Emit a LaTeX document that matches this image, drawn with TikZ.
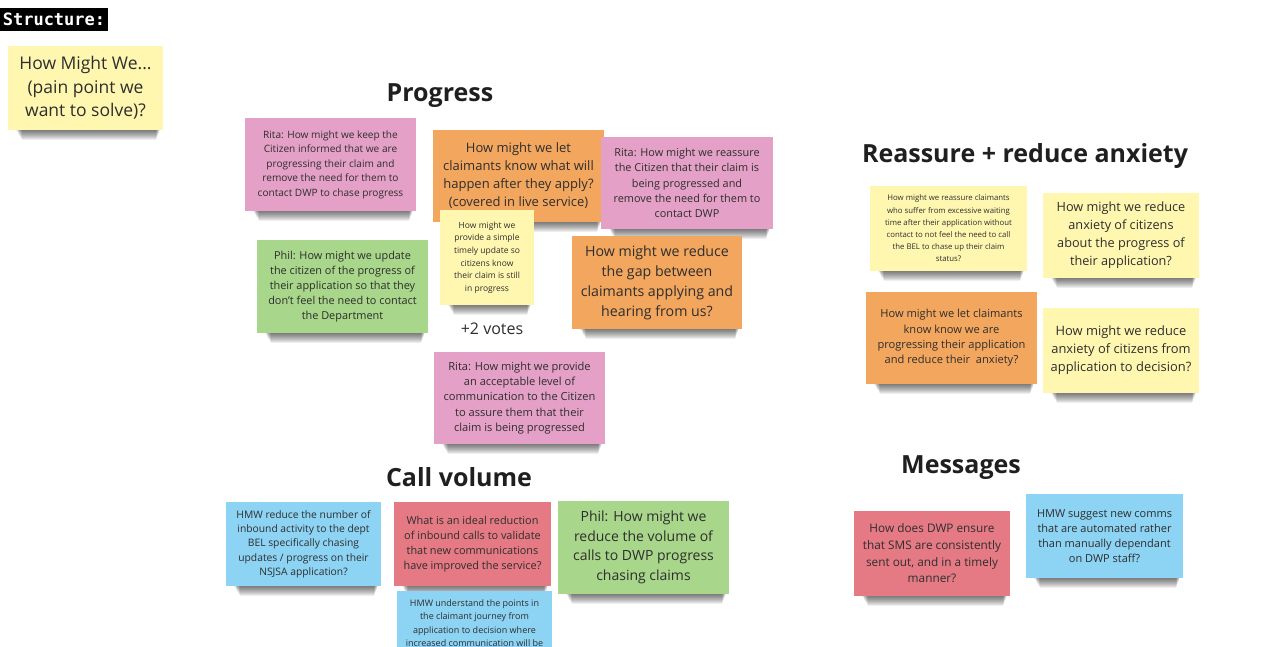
\documentclass[tikz,border=0pt]{standalone}
\usepackage{fontspec}
\setmainfont{Open Sans}
\newfontfamily\monofont{DejaVu Sans Mono}
\usepackage{xcolor}
\usetikzlibrary{backgrounds}

\definecolor{noteyellow}{HTML}{FFF7B0}
\definecolor{notepink}{HTML}{E4A0C6}
\definecolor{noteorange}{HTML}{F3A65E}
\definecolor{notegreen}{HTML}{A8D68A}
\definecolor{noteblue}{HTML}{8DD3F3}
\definecolor{notered}{HTML}{E57A85}
\definecolor{inktext}{HTML}{2E2E2E}

\tikzset{
  sticky/.style={inner sep=0pt,align=center,text=inktext},
  yellow note/.style={sticky,fill=noteyellow},
  pink note/.style={sticky,fill=notepink},
  orange note/.style={sticky,fill=noteorange},
  green note/.style={sticky,fill=notegreen},
  blue note/.style={sticky,fill=noteblue},
  red note/.style={sticky,fill=notered},
  heading/.style={anchor=base,text=black!88,font=\fontsize{25}{29}\selectfont\bfseries}
}

\begin{document}
\begin{tikzpicture}[x=1pt,y=-1pt]
      \useasboundingbox (0,0) rectangle (1280,646);
      %% legend
      \node[fill=black,text=white,inner sep=0pt,minimum width=108pt,minimum height=23pt,
            font=\monofont\fontsize{17}{20}\selectfont\bfseries] (struct) at (54,19.5) {Structure:};
      \node[yellow note,minimum width=155pt,minimum height=84pt,font=\fontsize{17.5}{23.5}\selectfont]
           (howmight) at (85.5,88) {How Might We...\\(pain point we\\want to solve)?};
      %%
      %% Progress
      \node[heading] (progress) at (440,101) {Progress};
      \node[pink note,minimum width=171pt,minimum height=93pt,font=\fontsize{10.1}{14.5}\selectfont]
           (ritaA) at (330.5,164.5) {Rita: How might we keep the\\Citizen informed that we are\\progressing their claim and\\remove the need for them to\\contact DWP to chase progress};
      \node[orange note,minimum width=171pt,minimum height=92pt,font=\fontsize{13}{18}\selectfont]
           (letknow) at (518.5,176) {How might we let\\claimants know what will\\happen after they apply?\\(covered in live service)};
      \node[pink note,minimum width=172pt,minimum height=92pt,font=\fontsize{10.9}{15.3}\selectfont]
           (ritaB) at (687,183) {Rita: How might we reassure\\the Citizen that their claim is\\being progressed and\\remove the need for them to\\contact DWP};
      \node[yellow note,minimum width=94pt,minimum height=95pt,font=\fontsize{8.5}{12.6}\selectfont]
           (timely) at (487,257.5) {How might we\\provide a simple\\timely update so\\citizens know\\their claim is still\\in progress};
      \node[green note,minimum width=171pt,minimum height=93pt,font=\fontsize{10.9}{15}\selectfont]
           (philA) at (342.5,286.5) {Phil: How might we update\\the citizen of the progress of\\their application so that they\\don't feel the need to contact\\the Department};
      \node[anchor=base,text=inktext,font=\fontsize{16}{19}\selectfont] (votes) at (492,334) {+2 votes};
      \node[orange note,minimum width=170pt,minimum height=93pt,font=\fontsize{14.2}{20}\selectfont]
           (gap) at (657,282.5) {How might we reduce\\the gap between\\claimants applying and\\hearing from us?};
      \node[pink note,minimum width=171pt,minimum height=92pt,font=\fontsize{11.1}{15.2}\selectfont]
           (ritaC) at (519.5,398) {Rita: How might we provide\\an acceptable level of\\communication to the Citizen\\to assure them that their\\claim is being progressed};
      %%
      %% Call volume
      \node[heading] (callvol) at (459,486) {Call volume};
      \node[blue note,minimum width=155pt,minimum height=84pt,font=\fontsize{10.3}{14.3}\selectfont]
           (inbound) at (303.5,544) {HMW reduce the number of\\inbound activity to the dept\\BEL specifically chasing\\updates / progress on their\\NSJSA application?};
      \node[red note,minimum width=157pt,minimum height=84pt,font=\fontsize{10.9}{15}\selectfont]
           (ideal) at (472.5,544) {What is an ideal reduction\\of inbound calls to validate\\that new communications\\have improved the service?};
      \node[green note,minimum width=171pt,minimum height=93pt,font=\fontsize{14}{19.6}\selectfont]
           (philB) at (643.5,547.5) {Phil: How might we\\reduce the volume of\\calls to DWP progress\\chasing claims};
      \node[blue note,anchor=north,minimum width=155pt,inner ysep=8pt,font=\fontsize{9}{13.5}\selectfont]
           (journey) at (474.5,591) {HMW understand the points in\\the claimant journey from\\application to decision where\\increased communication will be};
      %%
      %% Reassure + reduce anxiety
      \node[heading] (reassure) at (1025,162) {Reassure + reduce anxiety};
      \node[yellow note,minimum width=157pt,minimum height=85pt,font=\fontsize{7.8}{12.2}\selectfont]
           (waiting) at (948.5,228.5) {How might we reassure claimants\\who suffer from excessive waiting\\time after their application without\\contact to not feel the need to call\\the BEL to chase up their claim\\status?};
      \node[yellow note,minimum width=156pt,minimum height=85pt,font=\fontsize{12.7}{18}\selectfont]
           (anxietyA) at (1121,235.5) {How might we reduce\\anxiety of citizens\\about the progress of\\their application?};
      \node[orange note,minimum width=171pt,minimum height=92pt,font=\fontsize{11.1}{15.3}\selectfont]
           (letclaim) at (951.5,338) {How might we let claimants\\know know we are\\progressing their application\\and reduce their\ \ anxiety?};
      \node[yellow note,minimum width=156pt,minimum height=85pt,font=\fontsize{12.9}{18}\selectfont]
           (anxietyB) at (1121,350.5) {How might we reduce\\anxiety of citizens from\\application to decision?};
      %%
      %% Messages
      \node[heading] (messages) at (961,473) {Messages};
      \node[red note,minimum width=156pt,minimum height=85pt,font=\fontsize{11.8}{16.7}\selectfont]
           (sms) at (932,553.5) {How does DWP ensure\\that SMS are consistently\\sent out, and in a timely\\manner?};
      \node[blue note,minimum width=157pt,minimum height=84pt,font=\fontsize{11}{15}\selectfont]
           (comms) at (1104.5,536) {HMW suggest new comms\\that are automated rather\\than manually dependant\\on DWP staff?};
      %%
      %% paper and soft shadows under the notes
      \begin{scope}[on background layer]
        \fill[white] (0,0) rectangle (1280,646);
        \foreach \n in {howmight,ritaA,letknow,ritaB,timely,philA,gap,ritaC,
                        inbound,ideal,philB,waiting,anxietyA,letclaim,anxietyB,sms,comms}
          \foreach \k in {1,...,10}
            \fill[black,opacity=.065]
              ([xshift={8pt+0.6pt*\k}]\n.south west) rectangle ([xshift={-3pt-0.4pt*\k},yshift={-1pt*\k}]\n.south east);
      \end{scope}
    \end{tikzpicture}
\end{document}
